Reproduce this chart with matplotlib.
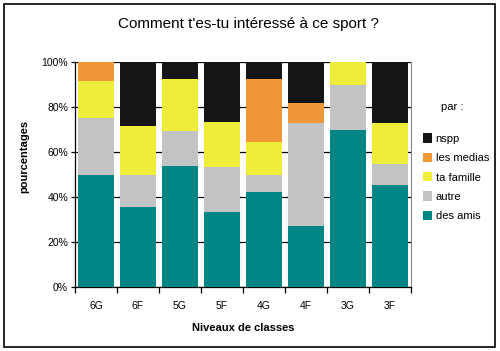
import numpy as np
import matplotlib.pyplot as plt
from matplotlib.patches import Rectangle

plt.rcParams['font.family'] = ['Liberation Sans', 'DejaVu Sans']

classes = ['6G', '6F', '5G', '5F', '4G', '4F', '3G', '3F']
des_amis = [50.0, 35.7, 53.8, 33.3, 42.3, 27.3, 70.0, 45.5]
autre = [25.0, 14.3, 15.4, 20.0, 7.7, 45.4, 20.0, 9.0]
ta_famille = [16.7, 21.4, 23.1, 20.0, 14.3, 0.0, 10.0, 18.2]
les_medias = [8.3, 0.0, 0.0, 0.0, 28.3, 9.1, 0.0, 0.0]
nspp = [0.0, 28.6, 7.7, 26.7, 7.4, 18.2, 0.0, 27.3]

series = [
    ('des amis', des_amis, '#008585'),
    ('autre', autre, '#c1c3c4'),
    ('ta famille', ta_famille, '#f0ec3c'),
    ('les medias', les_medias, '#ee9838'),
    ('nspp', nspp, '#151517'),
]

fig = plt.figure(figsize=(5.0, 3.51), dpi=100)
ax = fig.add_axes([75 / 500, 1 - 287 / 351, 336 / 500, 225 / 351])

x = np.arange(len(classes))
bottom = np.zeros(len(classes))
handles = []
for name, vals, col in series:
    vals = np.array(vals)
    b = ax.bar(x, vals, bottom=bottom, width=0.85, color=col, label=name, zorder=3)
    handles.append(b)
    bottom += vals

ax.set_xlim(-0.5, len(classes) - 0.5)
ax.set_ylim(0, 100)
ax.set_yticks(np.arange(0, 101, 20))
ax.set_yticklabels([f'{v}%' for v in range(0, 101, 20)], fontsize=7.5)
ax.yaxis.grid(True, color='black', linewidth=0.9, zorder=0)

ax.set_xticks(x)
ax.set_xticklabels(classes, fontsize=7.5)
ax.tick_params(axis='x', length=0, pad=10)
ax.set_xticks(np.arange(-0.5, len(classes)), minor=True)
ax.tick_params(axis='x', which='minor', length=4, width=0.9)
ax.tick_params(axis='y', length=3, width=0.9, pad=2)

ax.spines['top'].set_visible(False)
ax.spines['right'].set_color('#888888')
ax.spines['left'].set_linewidth(0.9)
ax.spines['bottom'].set_linewidth(0.9)

ax.set_xlabel('Niveaux de classes', fontsize=8, fontweight='bold', labelpad=9)
ax.set_ylabel('pourcentages', fontsize=8, fontweight='bold')
ax.yaxis.set_label_coords(-0.135, 0.58)

fig.text(249 / 500, 1 - 24 / 351, "Comment t'es-tu intéressé à ce sport ?",
         ha='center', va='center', fontsize=11)

fig.text(452 / 500, 1 - 107 / 351, 'par :', ha='center', va='center', fontsize=8)
leg = fig.legend(handles[::-1], [s[0] for s in series][::-1],
                 loc='upper left', bbox_to_anchor=(419 / 500, 1 - 129 / 351),
                 frameon=False, fontsize=8, handlelength=0.8, handleheight=0.9,
                 handletextpad=0.3, labelspacing=0.8, borderaxespad=0)

fig.patches.append(Rectangle((4 / 500, 4 / 351), 491 / 500, 343 / 351,
                             transform=fig.transFigure, fill=False,
                             edgecolor='black', linewidth=1.2))

fig.savefig('out.png', dpi=100)
